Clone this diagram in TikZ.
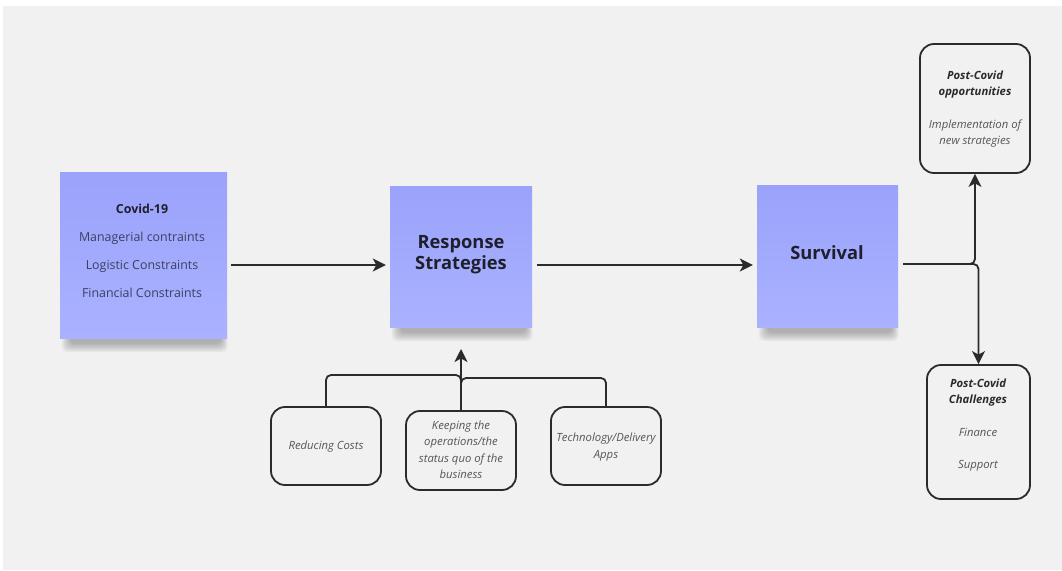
\documentclass[tikz,border=0pt]{standalone}
\usepackage{fontspec}
\setmainfont{Open Sans}
\usetikzlibrary{arrows.meta,backgrounds}
\definecolor{bg}{HTML}{F1F1F1}
\definecolor{stickytop}{HTML}{9AA2FB}
\definecolor{stickybot}{HTML}{AAB2FF}
\definecolor{ink}{HTML}{1F1F2B}
\definecolor{softink}{HTML}{3C4060}
\definecolor{linec}{HTML}{2B2B2B}
\definecolor{greytext}{HTML}{555555}
\tikzset{
  sticky/.style={draw=none, shade, top color=stickytop, bottom color=stickybot,
    minimum width=#1, inner sep=0pt},
  rbox/.style={draw=linec, line width=1.8pt, fill=bg, rounded corners=14pt, inner sep=0pt},
  conn/.style={draw=linec, line width=1.8pt},
  arr/.style={conn, -{Stealth[length=13pt,width=13pt,inset=3.5pt]}},
  stxt/.style={font=\fontsize{12.4}{28}\selectfont, text=softink, align=center},
  btxt/.style={font=\fontsize{18.3}{21}\selectfont\bfseries, text=ink, align=center},
  itxt/.style={font=\fontsize{11.3}{16.5}\selectfont\itshape, text=greytext, align=center},
  shadowlayer/.style={fill=black, opacity=0.025, rounded corners=5pt},
}
\newcommand\stickyshadow[1]{%
  \foreach \k in {1,...,12}{%
    \fill[shadowlayer] ([xshift={(1+0.8*\k)*1pt}, yshift={(0.8*\k-15)*1pt}]#1.south west)
      rectangle ([xshift={(1-0.6*\k)*1pt}, yshift=30pt]#1.south east);
  }%
}
\begin{document}
\begin{tikzpicture}[x=1pt,y=-1pt]
\useasboundingbox (0,0) rectangle (1062,570);

% sticky notes
\node[sticky=167pt, minimum height=166pt] (covid) at (143.5,255) {};
\node[stxt] (covidtxt) at (142,251) {{\bfseries\color{ink}Covid-19}\\Managerial contraints\\Logistic Constraints\\Financial Constraints};

\node[sticky=142pt, minimum height=141pt] (resp) at (461,256.5) {};
\node[btxt] (resptxt) at (461,255) {Response\\Strategies};

\node[sticky=141pt, minimum height=142pt] (surv) at (827.5,256) {};
\node[btxt] (survtxt) at (827,253) {Survival};

\begin{scope}[on background layer]
  \fill[bg] (3,6) rectangle (1062,570);
  \stickyshadow{covid}
  \stickyshadow{resp}
  \stickyshadow{surv}
\end{scope}

% rounded boxes
\node[rbox, minimum width=110pt, minimum height=129pt] (opp) at (975,108.5) {};
\node[itxt] (opptxt) at (975,109) {{\bfseries\color{linec}Post-Covid}\\{\bfseries\color{linec}opportunities}\\[16pt]Implementation of\\new strategies};

\node[rbox, minimum width=103pt, minimum height=134pt] (chal) at (978.5,432) {};
\node[itxt] (chaltxt) at (978,425) {{\bfseries\color{linec}Post-Covid}\\{\bfseries\color{linec}Challenges}\\[16pt]Finance\\[16pt]Support};

\node[rbox, minimum width=110pt, minimum height=78pt] (reduce) at (326,446) {};
\node[itxt] (reducetxt) at (326,447) {Reducing Costs};

\node[rbox, minimum width=110pt, minimum height=79pt] (keep) at (461,450.5) {};
\node[itxt] (keeptxt) at (461,450) {Keeping the\\operations/the\\status quo of the\\business};

\node[rbox, minimum width=110pt, minimum height=78pt] (tech) at (606,446) {};
\node[itxt] (techtxt) at (606,447) {Technology/Delivery\\Apps};

% connectors
\coordinate (row) at (0,265);
\coordinate (jrow) at (0,264);
\coordinate (tip) at (461,349);
\coordinate (mergeL) at (461,375);
\coordinate (mergeR) at (461,378);

\draw[arr, shorten <=4pt, shorten >=4pt] (covid.east |- row) -- (resp.west |- row);
\draw[arr, shorten <=5pt, shorten >=4pt] (resp.east |- row) -- (surv.west |- row);
\draw[arr, rounded corners=5pt, shorten <=5pt] (surv.east |- jrow) -| (opp.south);
\draw[arr, rounded corners=5pt, shorten <=5pt] (surv.east |- jrow) -| (chal.north);

\draw[conn, rounded corners=5pt] (reduce.north) |- (mergeL) -- ([yshift=-6pt]mergeL);
\draw[conn, rounded corners=5pt] (tech.north) |- (mergeR) -- ([yshift=-8pt]mergeR);
\draw[arr] (keep.north) -- (tip);
\end{tikzpicture}
\end{document}
